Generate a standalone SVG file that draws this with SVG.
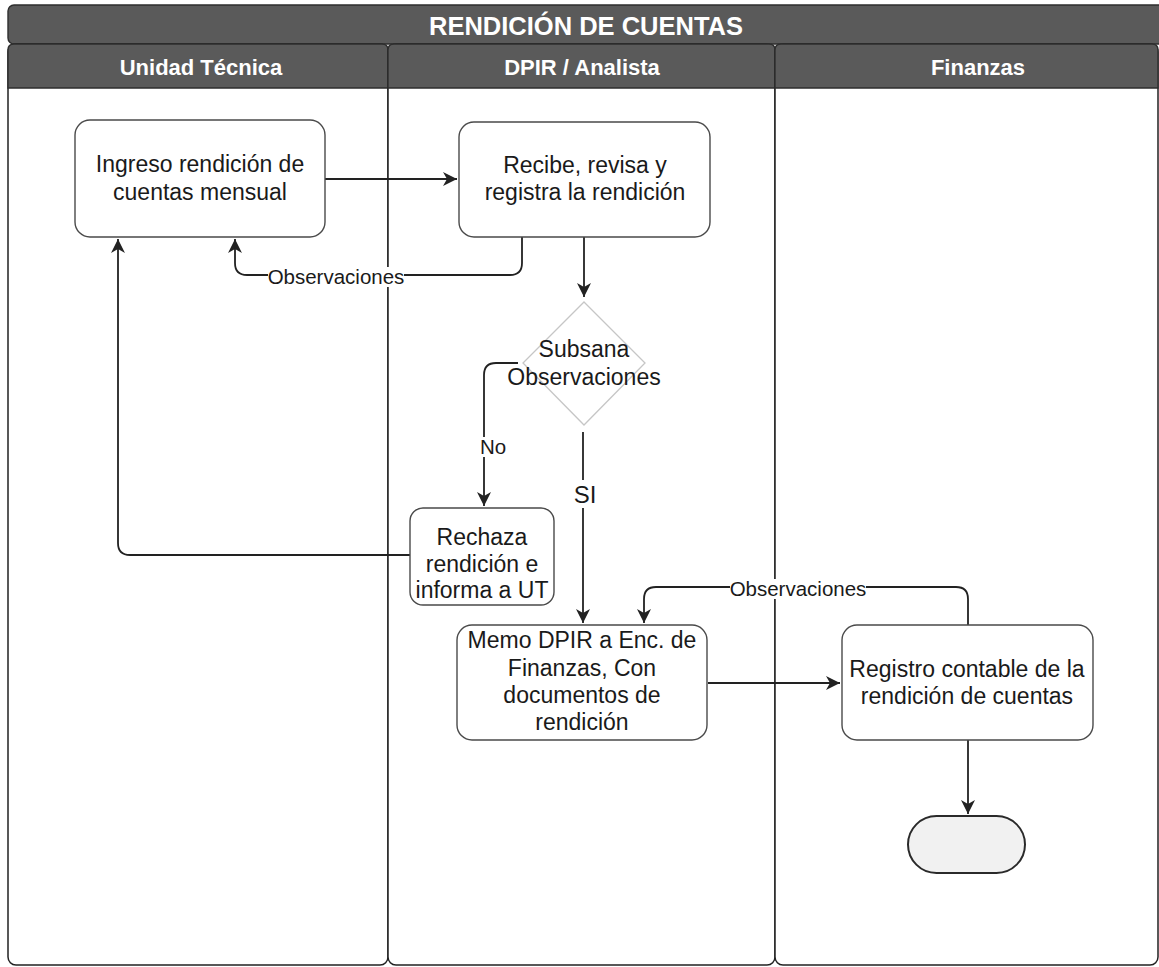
<svg xmlns="http://www.w3.org/2000/svg" width="1159" height="967" viewBox="0 0 1159 967">
  <defs>
    <marker id="arrow" viewBox="0 0 15 14" markerUnits="userSpaceOnUse" markerWidth="15" markerHeight="14" refX="14" refY="7" orient="auto">
      <path d="M0,0 L14,7 L0,14 L4,7 Z" fill="#222"/>
    </marker>
    <style>
      .pool-head { fill: #5a5a5a; stroke: #2e2e2e; stroke-width: 1.4; }
      .lane { fill: #ffffff; stroke: #222; stroke-width: 1.5; }
      .lane-head { fill: #5a5a5a; stroke: #2e2e2e; stroke-width: 1.4; }
      .title { font-family: "Liberation Sans", Arial, sans-serif; font-weight: bold; fill: #ffffff; text-anchor: middle; }
      .node { fill: #ffffff; stroke: #4a4a4a; stroke-width: 1.4; }
      .decision { fill: #ffffff; stroke: #c6c6c6; stroke-width: 1.3; }
      .terminal { fill: #f1f1f1; stroke: #2a2a2a; stroke-width: 2; }
      .txt { font-family: "Liberation Sans", Arial, sans-serif; font-size: 23px; fill: #1a1a1a; text-anchor: middle; }
      .edge { fill: none; stroke: #222; stroke-width: 1.8; marker-end: url(#arrow); }
      .lbl { font-family: "Liberation Sans", Arial, sans-serif; font-size: 20.5px; fill: #1a1a1a; text-anchor: middle; }
      .lbl-big { font-size: 24px; }
      .lbl-bg { fill: #ffffff; }
    </style>
  </defs>

  <rect width="1159" height="967" fill="#ffffff"/>

  <!-- Pool -->
  <g id="pool">
    <rect class="pool-head" x="8" y="5" width="1165" height="39" rx="6"/>
    <text class="title" x="586" y="35" font-size="25.5">RENDICIÓN DE CUENTAS</text>
  </g>

  <!-- Lanes -->
  <g id="lane-unidad-tecnica">
    <rect class="lane" x="8" y="44" width="380" height="921" rx="8"/>
    <path class="lane-head" d="M8,88 V50 Q8,44 14,44 H382 Q388,44 388,50 V88 Z"/>
    <text class="title" x="201" y="75" font-size="22">Unidad Técnica</text>
  </g>
  <g id="lane-dpir">
    <rect class="lane" x="388" y="44" width="387" height="921" rx="8"/>
    <path class="lane-head" d="M388,88 V50 Q388,44 394,44 H769 Q775,44 775,50 V88 Z"/>
    <text class="title" x="582" y="75" font-size="22">DPIR / Analista</text>
  </g>
  <g id="lane-finanzas">
    <rect class="lane" x="775" y="44" width="383" height="921" rx="8"/>
    <path class="lane-head" d="M775,88 V50 Q775,44 781,44 H1152 Q1158,44 1158,50 V88 Z"/>
    <text class="title" x="978" y="75" font-size="22">Finanzas</text>
  </g>

  <!-- Connectors -->
  <g id="connectors">
    <path class="edge" d="M325,179 H457"/>
    <path class="edge" d="M522,237 V263 Q522,275 510,275 H247 Q235,275 235,263 V239"/>
    <path class="edge" d="M584,237 V297"/>
    <path class="edge" d="M518,363 H496 Q484,363 484,375 V506"/>
    <path class="edge" d="M583,432 V623"/>
    <path class="edge" d="M410,555 H130 Q118,555 118,543 V239"/>
    <path class="edge" d="M708,683 H840"/>
    <path class="edge" d="M968,625 V599 Q968,587 956,587 H656 Q644,587 644,599 V623"/>
    <path class="edge" d="M968,740 V814"/>

    <rect class="lbl-bg" x="268" y="267" width="136" height="20"/>
    <text class="lbl" x="336" y="284">Observaciones</text>
    <rect class="lbl-bg" x="730" y="579" width="136" height="20"/>
    <text class="lbl" x="798" y="596">Observaciones</text>
    <rect class="lbl-bg" x="478" y="437" width="30" height="20"/>
    <text class="lbl" x="493" y="454">No</text>
    <rect class="lbl-bg" x="571" y="480" width="28" height="28"/>
    <text class="lbl lbl-big" x="585" y="503">SI</text>
  </g>

  <!-- Nodes -->
  <g id="ingreso">
    <rect class="node" x="75" y="120" width="250" height="117" rx="15"/>
    <text class="txt" x="200" y="172">Ingreso rendición de</text>
    <text class="txt" x="200" y="200">cuentas mensual</text>
  </g>
  <g id="recibe">
    <rect class="node" x="459" y="122" width="251" height="115" rx="15"/>
    <text class="txt" x="585" y="173">Recibe, revisa y</text>
    <text class="txt" x="585" y="200">registra la rendición</text>
  </g>
  <g id="subsana">
    <path class="decision" d="M584,302 L645,363 L584,425 L523,363 Z"/>
    <text class="txt" x="584" y="357">Subsana</text>
    <text class="txt" x="584" y="385">Observaciones</text>
  </g>
  <g id="rechaza">
    <rect class="node" x="410" y="508" width="144" height="97" rx="13"/>
    <text class="txt" x="482" y="545">Rechaza</text>
    <text class="txt" x="482" y="572">rendición e</text>
    <text class="txt" x="482" y="598">informa a UT</text>
  </g>
  <g id="memo">
    <rect class="node" x="457" y="625" width="250" height="115" rx="15"/>
    <text class="txt" x="582" y="648">Memo DPIR a Enc. de</text>
    <text class="txt" x="582" y="676">Finanzas, Con</text>
    <text class="txt" x="582" y="703">documentos de</text>
    <text class="txt" x="582" y="730">rendición</text>
  </g>
  <g id="registro">
    <rect class="node" x="842" y="625" width="251" height="115" rx="15"/>
    <text class="txt" x="967" y="677">Registro contable de la</text>
    <text class="txt" x="967" y="704">rendición de cuentas</text>
  </g>
  <g id="fin">
    <rect class="terminal" x="908" y="816" width="117" height="57" rx="28.5"/>
  </g>
</svg>
